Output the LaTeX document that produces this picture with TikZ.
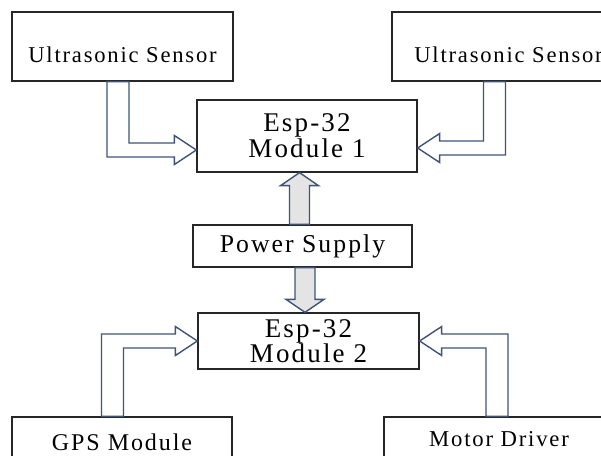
\documentclass[tikz,border=0pt]{standalone}
\usepackage{fontspec}
\setmainfont{Liberation Serif}[LetterSpace=8]
\usepackage{tikz}
\usetikzlibrary{calc}
\definecolor{pipe}{HTML}{3E5378}
\definecolor{feed}{HTML}{E4E4E4}
\definecolor{edge}{HTML}{262626}

% hollow bent arrow: start, tip, x direction, y direction
\newcommand{\bendarrow}[4]{%
  \draw[pipe line] let \p1=(#1), \p2=(#2) in
    ({\x1-(#3)*11pt},\y1) -- ({\x1-(#3)*11pt},{\y2+(#4)*7pt})
    -- ({\x2-(#3)*22pt},{\y2+(#4)*7pt}) -- ({\x2-(#3)*22pt},{\y2+(#4)*14.5pt})
    -- (\x2,\y2) -- ({\x2-(#3)*22pt},{\y2-(#4)*14.5pt})
    -- ({\x2-(#3)*22pt},{\y2-(#4)*7pt}) -- ({\x1+(#3)*11pt},{\y2-(#4)*7pt})
    -- ({\x1+(#3)*11pt},\y1) -- cycle;}
% grey supply arrow: start, tip, direction
\newcommand{\feedarrow}[3]{%
  \draw[feed line] let \p1=(#1), \p2=(#2) in
    ({\x1-10pt},\y1) -- ({\x1-10pt},{\y2-(#3)*13pt}) -- ({\x1-19pt},{\y2-(#3)*13pt})
    -- (\x1,\y2) -- ({\x1+19pt},{\y2-(#3)*13pt}) -- ({\x1+10pt},{\y2-(#3)*13pt})
    -- ({\x1+10pt},\y1) -- cycle;}

\begin{document}
\begin{tikzpicture}[x=1pt,y=-1pt,
  box/.style={draw=edge, line width=1.3pt, fill=white, inner sep=0pt},
  pipe line/.style={draw=pipe, line width=1.4pt, fill=white, line join=miter},
  feed line/.style={draw=pipe, line width=1.4pt, fill=feed, line join=miter}]
  \useasboundingbox (0,0) rectangle (601,455);
  \clip (0,0) rectangle (601,455);
  \fill[white] (0,0) rectangle (601,455);

  % sensors
  \node[box, minimum width=221pt, minimum height=69pt, text height=31pt, text depth=0pt,
    font=\fontsize{22.6}{26}\selectfont] (usl) at (122.5,46.5) {Ultrasonic Sensor};
  \node[box, minimum width=233pt, minimum height=69pt, text height=31pt, text depth=0pt,
    font=\fontsize{22.6}{26}\selectfont] (usr) at (508.5,46.5) {Ultrasonic Sensor};

  % controllers and supply
  \node[box, minimum width=220pt, minimum height=72pt, align=center,
    font=\fontsize{27}{26}\selectfont] (esp1) at (307,136) {Esp-32\\Module 1};
  \node[box, minimum width=219pt, minimum height=42pt,
    font=\fontsize{25.7}{28}\selectfont] (psu) at (302.5,246) {Power Supply};
  \node[box, minimum width=221pt, minimum height=56pt, align=center,
    font=\fontsize{27}{23}\selectfont] (esp2) at (308.5,341) {Esp-32\\Module 2};

  % outputs
  \node[box, minimum width=220pt, minimum height=69pt, text height=16pt, text depth=19pt,
    font=\fontsize{24}{28}\selectfont] (gps) at (122,451.5) {GPS Module};
  \node[box, minimum width=230pt, minimum height=69pt, text height=16pt, text depth=25.6pt,
    font=\fontsize{22.7}{26}\selectfont] (mot) at (499,451.5) {Motor Driver};

  % connectors
  \bendarrow{[xshift=-4.5pt]usl.south}{[yshift=-14pt]esp1.west}{1}{-1}
  \bendarrow{[xshift=-14pt]usr.south}{[yshift=-12pt]esp1.east}{-1}{-1}
  \bendarrow{[xshift=-9.5pt]gps.north}{esp2.west}{1}{1}
  \bendarrow{[xshift=-2pt]mot.north}{esp2.east}{-1}{1}
  \feedarrow{[xshift=-3pt]psu.north}{esp1.south}{1}
  \feedarrow{[xshift=2.5pt]psu.south}{esp2.north}{-1}
\end{tikzpicture}
\end{document}
